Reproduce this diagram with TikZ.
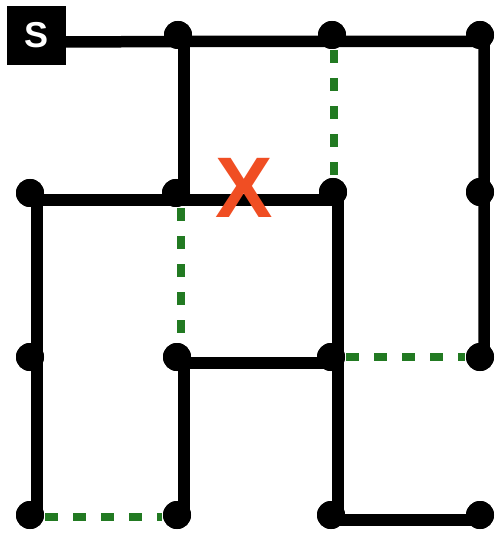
\documentclass[tikz,border=0pt]{standalone}
\usepackage{fontspec}
\setmainfont{Liberation Sans}
\begin{document}
\begin{tikzpicture}[x=1pt,y=-1pt,
  dot/.style={circle,fill=black,inner sep=0pt,minimum size=28pt},
  wall/.style={line width=11.5pt,black,line join=miter},
  open/.style={line width=8pt,draw=mazegreen,dash pattern=on 13pt off 15pt},
  startbox/.style={fill=black,minimum size=59pt,inner sep=0pt,text=white,font=\bfseries\fontsize{36}{36}\selectfont}]
\definecolor{mazegreen}{RGB}{34,122,34}
\definecolor{xred}{RGB}{240,78,35}
\useasboundingbox (0,0) rectangle (495,534);
% start box
\node[startbox] (S) at (36.5,35.5) {S};
% dots
\node[dot] (a2) at (178,35) {};
\node[dot] (a3) at (332,35) {};
\node[dot] (a4) at (480,35) {};
\node[dot] (b1) at (30,193) {};
\node[dot] (b2) at (176,193) {};
\node[dot] (b3) at (333,192) {};
\node[dot] (b4) at (480,192) {};
\node[dot] (c1) at (30,357) {};
\node[dot] (c2) at (177,357) {};
\node[dot] (c3) at (331,357) {};
\node[dot] (c4) at (480,357) {};
\node[dot] (d1) at (30,515) {};
\node[dot] (d2) at (177,515) {};
\node[dot] (d3) at (331,515) {};
\node[dot] (d4) at (480,515) {};
% walls
\draw[wall] ([shift={(0,6.5)}]S.east) -- ([shift={(0,6.5)}]a2.center) -- ([shift={(0,6.5)}]a3.center) -- ([shift={(4,6.5)}]a4.center) -- ([shift={(4,0)}]b4.center) -- ([shift={(4,0)}]c4.center);
\draw[wall] ([shift={(6,0)}]a2.center) -- ([shift={(8,7)}]b2.center);
\draw[wall] ([shift={(7,7)}]b1.center) -- ([shift={(5,8)}]b3.center) -- ([shift={(7,6)}]c3.center) -- ([shift={(7,5)}]d3.center) -- ([shift={(0,5)}]d4.center);
\draw[wall] ([shift={(7,7)}]b1.center) -- ([shift={(7,0)}]c1.center) -- ([shift={(7,0)}]d1.center);
\draw[wall] ([shift={(0,6)}]c3.center) -- ([shift={(7,6)}]c2.center) -- ([shift={(7,0)}]d2.center);
% open passages
\draw[open] ([shift={(2,15)}]a3.center) -- ([shift={(1,-15)}]b3.center);
\draw[open] ([shift={(5,15)}]b2.center) -- ([shift={(4,-15)}]c2.center);
\draw[open] ([shift={(15,0)}]c3.center) -- ([shift={(-15,0)}]c4.center);
\draw[open] ([shift={(15,2)}]d1.center) -- ([shift={(-15,2)}]d2.center);
% dots on top
\foreach \n in {a2,a3,a4,b1,b2,b3,b4,c1,c2,c3,c4,d1,d2,d3,d4}
  \fill (\n) circle (14pt);
% X mark
\node[text=xred,font=\bfseries\fontsize{86}{86}\selectfont,inner sep=0pt] (X) at (244,188) {X};
\end{tikzpicture}
\end{document}
